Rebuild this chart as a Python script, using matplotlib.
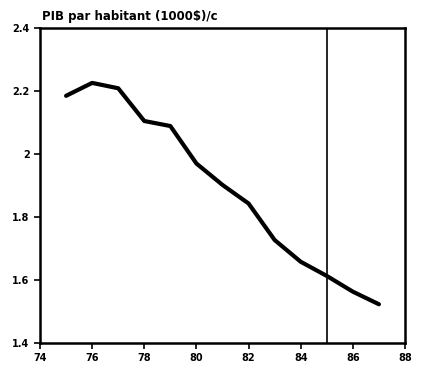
# PIB par habitant, 1975-1987
import matplotlib.pyplot as plt

years = [75, 76, 77, 78, 79, 80, 81, 82, 83, 84, 85, 86, 87]
pib = [2.185, 2.226, 2.209, 2.105, 2.089, 1.970, 1.902, 1.843, 1.727, 1.658, 1.613, 1.563, 1.523]

xticks = [74, 76, 78, 80, 82, 84, 86, 88]
yticks = [1.4, 1.6, 1.8, 2.0, 2.2, 2.4]
ylabels = ['1.4', '1.6', '1.8', '2', '2.2', '2.4']
split_year = 85

fig = plt.figure(figsize=(4.21, 3.70), dpi=100)
ax = fig.add_axes([0.095, 0.073, 0.867, 0.851])

ax.plot(years, pib, color='black', lw=3.0, solid_capstyle='round')
ax.axvline(split_year, color='black', lw=1.2)

ax.set_xlim(74, 88)
ax.set_ylim(1.4, 2.4)
ax.set_xticks(xticks)
ax.set_xticklabels([str(t) for t in xticks])
ax.set_yticks(yticks)
ax.set_yticklabels(ylabels)
ax.tick_params(direction='out', length=4, width=1.2, labelsize=7)
for lab in ax.get_xticklabels() + ax.get_yticklabels():
    lab.set_fontweight('bold')
for s in ax.spines.values():
    s.set_linewidth(1.8)

fig.text(0.1, 0.937, "PIB par habitant (1000$)/c", fontsize=8.5, fontweight='bold', ha='left', va='bottom')

fig.savefig('out.png', dpi=100)
